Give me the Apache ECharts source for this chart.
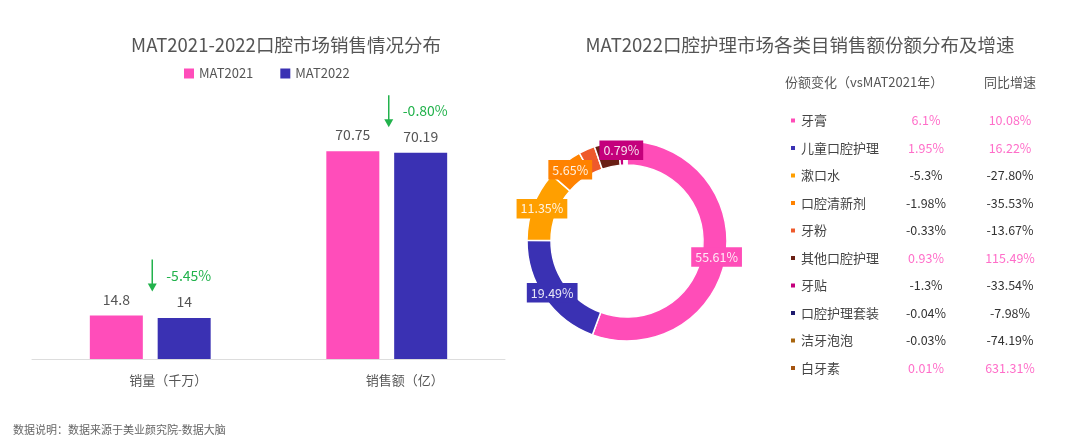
<!DOCTYPE html>
<html>
<head>
<meta charset="utf-8">
<script src="https://cdn.jsdelivr.net/npm/echarts@6/dist/echarts.min.js"></script>
<style>
html,body{margin:0;padding:0;background:#fff;}
#c{width:1080px;height:448px;}
</style>
</head>
<body>
<div id="c"></div>
<script>
// ---- data ----
const barCategories = ['销量（千万）', '销售额（亿）'];
const barSeriesNames = ['MAT2021', 'MAT2022'];
const mat2021 = [14.8, 70.75];
const mat2022 = [14, 70.19];
const barGrowth = ['-5.45%', '-0.80%'];

const pieNames = ['牙膏', '儿童口腔护理', '漱口水', '口腔清新剂', '牙粉', '其他口腔护理', '牙贴', '口腔护理套装', '洁牙泡泡', '白牙素'];
const pieShares = [55.61, 19.49, 11.35, 5.65, 2.6, 3.9, 0.79, 0.25, 0.2, 0.15];
const pieLabelShown = [true, true, true, true, false, false, true, false, false, false];
const shareChange = ['6.1%', '1.95%', '-5.3%', '-1.98%', '-0.33%', '0.93%', '-1.3%', '-0.04%', '-0.03%', '0.01%'];
const yoyGrowth = ['10.08%', '16.22%', '-27.80%', '-35.53%', '-13.67%', '115.49%', '-33.54%', '-7.98%', '-74.19%', '631.31%'];

const leftTitle = 'MAT2021-2022口腔市场销售情况分布';
const rightTitle = 'MAT2022口腔护理市场各类目销售额份额分布及增速';
const headerShare = '份额变化（vsMAT2021年）';
const headerGrowth = '同比增速';
const footer = '数据说明：数据来源于美业颜究院-数据大脑';

// ---- styles ----
const FONT = '"Noto Sans CJK SC", "Noto Sans", sans-serif';
const barColors = ['#FF4DBA', '#3A31B3'];
const pieColors = ['#FF4DB8', '#3A31B3', '#FF9F00', '#FF8200', '#EE5A2C', '#6A1F14', '#C4007C', '#1E1B6E', '#A8650E', '#A45410'];
const GREEN = '#22B24C';

const chart = echarts.init(document.getElementById('c'), null, {renderer: 'canvas'});

const pieData = pieNames.map((n, i) => ({
  name: n,
  value: pieShares[i],
  itemStyle: {color: pieColors[i]},
  label: {show: pieLabelShown[i], backgroundColor: pieColors[i]}
}));

const option = {
  animation: false,
  textStyle: {fontFamily: FONT},
  grid: {left: 32, right: 575, top: 124, bottom: 89},
  xAxis: {
    type: 'category',
    data: barCategories,
    axisLine: {lineStyle: {color: '#DDDDDD'}},
    axisTick: {show: false},
    axisLabel: {color: '#555', fontSize: 13, margin: 15, padding: [0, 0, 0, 36], fontFamily: FONT}
  },
  yAxis: {type: 'value', min: 0, max: 80, show: false, splitLine: {show: false}},
  legend: [
    {
      data: barSeriesNames,
      left: 184, top: 67, padding: 0,
      itemWidth: 10, itemHeight: 10, itemGap: 27, icon: 'rect',
      selectedMode: false,
      textStyle: {color: '#555', fontSize: 13, fontFamily: FONT}
    },
    {
      data: pieNames,
      orient: 'vertical',
      left: 784, top: 109,
      itemWidth: 6, itemHeight: 6, itemGap: 11.5, icon: 'rect',
      selectedMode: false,
      formatter: function (name) {
        const i = pieNames.indexOf(name);
        const a = shareChange[i], b = yoyGrowth[i];
        const ka = a.charAt(0) === '-' ? 'ma' : 'pa';
        const kb = b.charAt(0) === '-' ? 'mb' : 'pb';
        return '{n|' + name + '}{' + ka + '|' + a + '}{' + kb + '|' + b + '}';
      },
      textStyle: {
        fontFamily: FONT,
        rich: {
          n: {width: 90, fontSize: 13, color: '#444', lineHeight: 16, fontFamily: FONT},
          pa: {width: 70, align: 'center', fontSize: 12.5, color: '#FF6EC9', lineHeight: 16, fontFamily: FONT},
          ma: {width: 70, align: 'center', fontSize: 12.5, color: '#333', lineHeight: 16, fontFamily: FONT},
          pb: {width: 98, align: 'center', fontSize: 12.5, color: '#FF6EC9', lineHeight: 16, fontFamily: FONT},
          mb: {width: 98, align: 'center', fontSize: 12.5, color: '#333', lineHeight: 16, fontFamily: FONT}
        }
      }
    }
  ],
  series: [
    {
      name: barSeriesNames[0], type: 'bar', data: mat2021,
      itemStyle: {color: barColors[0]},
      barWidth: 53, barGap: '28%',
      label: {show: true, position: 'top', distance: 9, color: '#555', fontSize: 14, fontFamily: FONT}
    },
    {
      name: barSeriesNames[1], type: 'bar', data: mat2022,
      itemStyle: {color: barColors[1]},
      barWidth: 53, barGap: '28%',
      label: {show: true, position: 'top', distance: 9, color: '#555', fontSize: 14, fontFamily: FONT}
    },
    {
      name: 'share', type: 'pie',
      center: [627, 241], radius: [76, 100],
      startAngle: 90, clockwise: true,
      avoidLabelOverlap: false,
      itemStyle: {borderColor: '#fff', borderWidth: 1.5},
      label: {
        position: 'inside',
        formatter: p => p.value + '%',
        color: 'rgba(255,255,255,0.88)', fontSize: 12.5, fontFamily: FONT,
        padding: [4, 4, 3, 4]
      },
      labelLine: {show: false},
      emphasis: {disabled: true},
      data: pieData
    }
  ]
};
// row spacing of the category table
option.legend[1].itemGap = 11.5 + 3;
chart.setOption(option);

// ---- graphics (texts + growth arrows positioned via the chart's scales) ----
const g = [];
function txt(text, x, y, size, color, align) {
  g.push({type: 'text', x: x, y: y, silent: true,
    style: {text: text, fill: color, fontSize: size, fontFamily: FONT, textAlign: align || 'left', textVerticalAlign: 'middle'}});
}
txt(leftTitle, 286, 45, 18.5, '#555', 'center');
txt(rightTitle, 800, 45, 18.5, '#555', 'center');
txt(headerShare, 785, 82, 13, '#555', 'left');
txt(headerGrowth, 1010, 82, 13, '#555', 'center');
txt(footer, 13, 430, 11, '#666', 'left');

barCategories.forEach((c, i) => {
  const top = chart.convertToPixel({gridIndex: 0}, [i, Math.max(mat2021[i], mat2022[i])]);
  const x = top[0] + 2;
  const y1 = top[1] - 56, y2 = top[1] - 24;
  g.push({type: 'line', silent: true, shape: {x1: x, y1: y1, x2: x, y2: y2 - 6}, style: {stroke: GREEN, lineWidth: 1.5}});
  g.push({type: 'polygon', silent: true, shape: {points: [[x - 4.5, y2 - 8], [x + 4.5, y2 - 8], [x, y2]]}, style: {fill: GREEN}});
  txt(barGrowth[i], x + 14, (y1 + y2) / 2, 14, GREEN, 'left');
});
chart.setOption({graphic: g});
</script>
</body>
</html>
